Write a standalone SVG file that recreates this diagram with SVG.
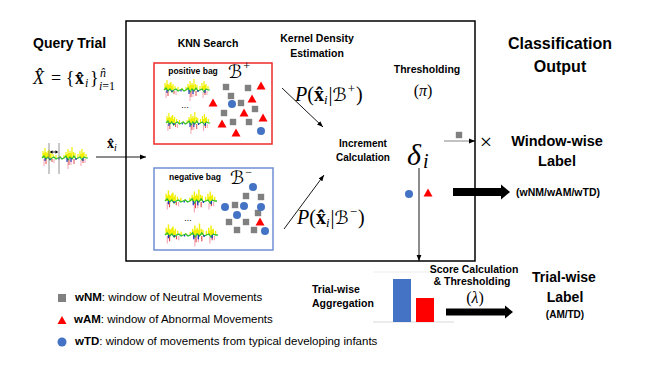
<svg xmlns="http://www.w3.org/2000/svg" xmlns:xlink="http://www.w3.org/1999/xlink" width="660" height="371" viewBox="0 0 660 371">
<style>
  .b{font-family:"Liberation Sans",Arial,sans-serif;font-weight:bold;fill:#000}
  .t{font-family:"Liberation Sans",Arial,sans-serif;fill:#000}
  .m{font-family:"Liberation Serif","DejaVu Serif",serif;fill:#000}
  .sc{font-family:"DejaVu Sans",sans-serif;font-style:normal;font-weight:normal}
  .it{font-style:italic}
  .sq{fill:#808080}
  .tri{fill:#ff0000}
  .cir{fill:#4472c4}
  .ln{stroke:#000;stroke-width:0.9;fill:none}
</style>
<defs>
  <marker id="ah" viewBox="0 0 10 10" refX="10" refY="5" markerWidth="6" markerHeight="6" markerUnits="userSpaceOnUse" orient="auto">
    <path d="M0,1 L10,5 L0,9 z" fill="#000"/>
  </marker>
  <rect id="s" x="-3.2" y="-3.2" width="6.4" height="6.4" class="sq"/>
  <path id="tr" d="M0,-4.5 L4.5,3.5 L-4.5,3.5 z" class="tri"/>
  <circle id="c" r="4" class="cir"/>
  <symbol id="sig" overflow="visible">
    <path d="M1 0v-7M2 0v-5M3 0v-10M4 0v-6M5 0v-5M6 0v-7M7 0v-8M8 0v-4M9 0v-6M11 0v-4M14 0v-3M18 0v-2M22 0v-3M24 0v-6M25 0v-4M26 0v-9M27 0v-5M28 0v-7M29 0v-5M30 0v-11M31.5 0v-6M33 0v-5M36 0v-4M38 0v-7M39 0v-4M40 0v-9M41 0v-5M42 0v-6M44 0v-4" stroke="#f0f000" stroke-width="1.2" fill="none"/>
    <path d="M2 1v7M12 1v4M26 2v9M29 1v6M39 2v6M43 1v4" stroke="#f4a6b4" stroke-width="1" fill="none"/>
    <path d="M4 1v5M10 1v3M27 1v6M32 1v5M41 1v4" stroke="#e04848" stroke-width="1" fill="none"/>
    <polyline points="0,0 2,-2 4,1 6,-1 8,2 10,0 12,-1 14,1 16,0 18,-1 20,1 22,0 24,-2 26,2 28,-1 30,1 32,-2 34,1 36,0 38,-1 40,2 42,-1 44,0 46,0" stroke="#2fbf2f" stroke-width="1.2" fill="none"/>
    <path d="M3 0v3M8 0v2M17 0v1.5M25 0v4M29 0v4M34 0v2M41 0v3" stroke="#2030c0" stroke-width="1.1" fill="none"/>
  </symbol>
</defs>
<rect width="660" height="371" fill="#fff"/>

<g id="main-box">
  <rect x="126" y="21" width="349" height="240" fill="none" stroke="#000" stroke-width="1.5"/>
</g>

<g id="query-trial">
  <text class="b" x="33" y="48" font-size="14">Query Trial</text>
  <text class="m it" x="33" y="84" font-size="18">X̂</text>
  <text class="m" x="51" y="84" font-size="18">= {</text>
  <text class="m" x="75" y="84" font-size="18" font-weight="bold">x̂</text>
  <text class="m it" x="85" y="87" font-size="12">i</text>
  <text class="m" x="90" y="84" font-size="18">}</text>
  <text class="m it" x="100" y="77" font-size="12">n̂</text>
  <text class="m" x="99" y="90" font-size="12"><tspan font-style="italic">i</tspan>=1</text>
  <use href="#sig" x="42" y="158"/>
  <path d="M49 143v31M59 143v31" stroke="#777" stroke-width="0.8"/>
  <path d="M50.5 152h7" stroke="#000" stroke-width="0.8"/>
  <path d="M50 152l2.5 -1.8v3.6z M58 152l-2.5 -1.8v3.6z" fill="#000"/>
</g>

<g id="knn-search">
  <text class="b" x="208" y="47" font-size="10.5" text-anchor="middle">KNN Search</text>
</g>

<g id="positive-bag">
  <rect x="154" y="63" width="118" height="81" fill="none" stroke="#ee2a2a" stroke-width="1.5"/>
  <text class="b" x="193" y="74" font-size="8.5" text-anchor="middle">positive bag</text>
  <text class="m" x="228" y="78" font-size="15"><tspan class="sc" font-size="18">ℬ</tspan><tspan font-size="12" dx="1" dy="-8">+</tspan></text>
  <use href="#sig" x="164" y="90"/>
  <use href="#sig" x="166" y="123" transform="translate(166 123) scale(0.96 1) translate(-166 -123)"/>
  <text class="t" x="185" y="108" font-size="9" text-anchor="middle">...</text>
  <use href="#s" x="226" y="87"/><use href="#s" x="248" y="88"/><use href="#s" x="231" y="96"/><use href="#s" x="241" y="103"/>
  <use href="#s" x="255" y="109"/><use href="#s" x="224" y="113"/><use href="#s" x="233" y="122"/><use href="#s" x="249" y="122"/>
  <use href="#tr" x="261" y="86"/><use href="#tr" x="213" y="103"/><use href="#tr" x="252" y="99"/><use href="#tr" x="244" y="113"/>
  <use href="#tr" x="263" y="118"/><use href="#tr" x="222" y="124"/><use href="#tr" x="236" y="133"/>
  <use href="#c" x="232" y="104"/><use href="#c" x="261" y="131"/>
</g>

<g id="negative-bag">
  <rect x="154" y="168" width="119" height="82" fill="none" stroke="#6f8fd2" stroke-width="1.5"/>
  <text class="b" x="195" y="180" font-size="8.5" text-anchor="middle">negative bag</text>
  <text class="m" x="230" y="184" font-size="15"><tspan class="sc" font-size="18">ℬ</tspan><tspan font-size="12" dx="1" dy="-8">−</tspan></text>
  <use href="#sig" x="165" y="201" transform="translate(165 201) scale(1.13 1.05) translate(-165 -201)"/>
  <use href="#sig" x="165" y="235" transform="translate(165 235) scale(1.15 1.05) translate(-165 -235)"/>
  <text class="t" x="188" y="221" font-size="9" text-anchor="middle">...</text>
  <use href="#s" x="246" y="196"/><use href="#s" x="261" y="197"/><use href="#s" x="235" y="205"/><use href="#s" x="258" y="213"/>
  <use href="#s" x="229" y="222"/><use href="#s" x="246" y="222"/><use href="#s" x="237" y="230"/><use href="#s" x="254" y="230"/>
  <use href="#tr" x="260" y="222"/>
  <use href="#c" x="253" y="187"/><use href="#c" x="225" y="207"/><use href="#c" x="244" y="206"/><use href="#c" x="261" y="207"/>
  <use href="#c" x="237" y="215"/><use href="#c" x="265" y="231"/>
</g>

<g id="kernel-density">
  <text class="b" x="317" y="42" font-size="10.5" text-anchor="middle">Kernel Density</text>
  <text class="b" x="317" y="57" font-size="10.5" text-anchor="middle">Estimation</text>
  <text class="m" x="295" y="101" font-size="20"><tspan font-style="italic">P</tspan>(<tspan font-weight="bold">x̂</tspan><tspan font-style="italic" font-size="13" dy="3">i</tspan><tspan dx="1" dy="-3">|</tspan><tspan class="sc" font-size="18">ℬ</tspan><tspan font-size="13" dx="1" dy="-8">+</tspan><tspan dx="1" dy="8">)</tspan></text>
  <text class="m" x="297" y="224" font-size="20"><tspan font-style="italic">P</tspan>(<tspan font-weight="bold">x̂</tspan><tspan font-style="italic" font-size="13" dy="3">i</tspan><tspan dx="1" dy="-3">|</tspan><tspan class="sc" font-size="18">ℬ</tspan><tspan font-size="13" dx="1" dy="-8">−</tspan><tspan dx="1" dy="8">)</tspan></text>
</g>

<g id="increment-calculation">
  <text class="b" x="363" y="147" font-size="10" text-anchor="middle">Increment</text>
  <text class="b" x="363" y="161" font-size="10" text-anchor="middle">Calculation</text>
  <text class="m it" x="407" y="165" font-size="30">δ</text>
  <text class="m it" x="423" y="168" font-size="20">i</text>
  <use href="#c" x="409" y="194"/>
  <use href="#tr" x="428" y="193"/>
</g>

<g id="thresholding">
  <text class="b" x="427" y="73" font-size="10.5" text-anchor="middle">Thresholding</text>
  <text class="m" x="423" y="96" font-size="16" text-anchor="middle">(<tspan font-style="italic">π</tspan>)</text>
  <use href="#s" x="459" y="135"/>
  <text class="m" x="486" y="149" font-size="22" text-anchor="middle">×</text>
</g>

<g id="classification-output">
  <text class="b" x="560" y="49" font-size="16" text-anchor="middle">Classification</text>
  <text class="b" x="560" y="72" font-size="16" text-anchor="middle">Output</text>
</g>

<g id="window-wise-label">
  <text class="b" x="557" y="146" font-size="14.5" text-anchor="middle">Window-wise</text>
  <text class="b" x="557" y="166" font-size="14.5" text-anchor="middle">Label</text>
  <text class="b" x="516" y="196" font-size="10.5">(wNM/wAM/wTD)</text>
</g>

<g id="trial-wise-aggregation">
  <text class="b" x="312" y="293" font-size="10.5">Trial-wise</text>
  <text class="b" x="312" y="307" font-size="10.5">Aggregation</text>
  <path d="M373 272h70" stroke="#ececec" stroke-width="1"/>
  <path d="M373 322h81" stroke="#d9d9d9" stroke-width="1"/>
  <rect x="393" y="279" width="18" height="43" fill="#4472c4"/>
  <rect x="416" y="298" width="18" height="24" fill="#ff0000"/>
</g>

<g id="score-calculation">
  <text class="b" x="474" y="273" font-size="10.5" text-anchor="middle">Score Calculation</text>
  <text class="b" x="472" y="285" font-size="10.5" text-anchor="middle">&amp; Thresholding</text>
  <text class="m" x="475" y="303" font-size="16" text-anchor="middle">(<tspan font-style="italic">λ</tspan>)</text>
</g>

<g id="trial-wise-label">
  <text class="b" x="564" y="282" font-size="14" text-anchor="middle">Trial-wise</text>
  <text class="b" x="565" y="302" font-size="14" text-anchor="middle">Label</text>
  <text class="b" x="565" y="318" font-size="10" text-anchor="middle">(AM/TD)</text>
</g>

<g id="legend">
  <rect x="58" y="294" width="8" height="8" class="sq"/>
  <text class="t" x="75" y="301" font-size="11.5"><tspan font-weight="bold">wNM</tspan>: window of Neutral Movements</text>
  <path d="M62,316 L66.5,324 L57.5,324 z" class="tri"/>
  <text class="t" x="74" y="323" font-size="11.5"><tspan font-weight="bold">wAM</tspan>: window of Abnormal Movements</text>
  <circle cx="62" cy="342" r="4.5" class="cir"/>
  <text class="t" x="75" y="345" font-size="11.5"><tspan font-weight="bold">wTD</tspan>: window of movements from typical developing infants</text>
</g>

<g id="connectors">
  <path class="ln" d="M96 157H146" marker-end="url(#ah)"/>
  <text class="m" x="107" y="148" font-size="14" font-weight="bold">x̂<tspan font-style="italic" font-weight="normal" font-size="10" dy="3">i</tspan></text>
  <path class="ln" d="M282 88L323 127" marker-end="url(#ah)"/>
  <path class="ln" d="M284 229L324 175" marker-end="url(#ah)"/>
  <path d="M444 141H470" stroke="#999" stroke-width="1.2" fill="none"/>
  <path class="ln" d="M469 141H475" marker-end="url(#ah)"/>
  <path class="ln" d="M419 168V261" marker-end="url(#ah)"/>
  <polygon points="453,188 501,188 501,184.5 510,192 501,199.5 501,196 453,196" fill="#000"/>
  <polygon points="446,308.5 505,308.5 505,305.5 513,312 505,318.5 505,315.5 446,315.5" fill="#000"/>
</g>
</svg>
